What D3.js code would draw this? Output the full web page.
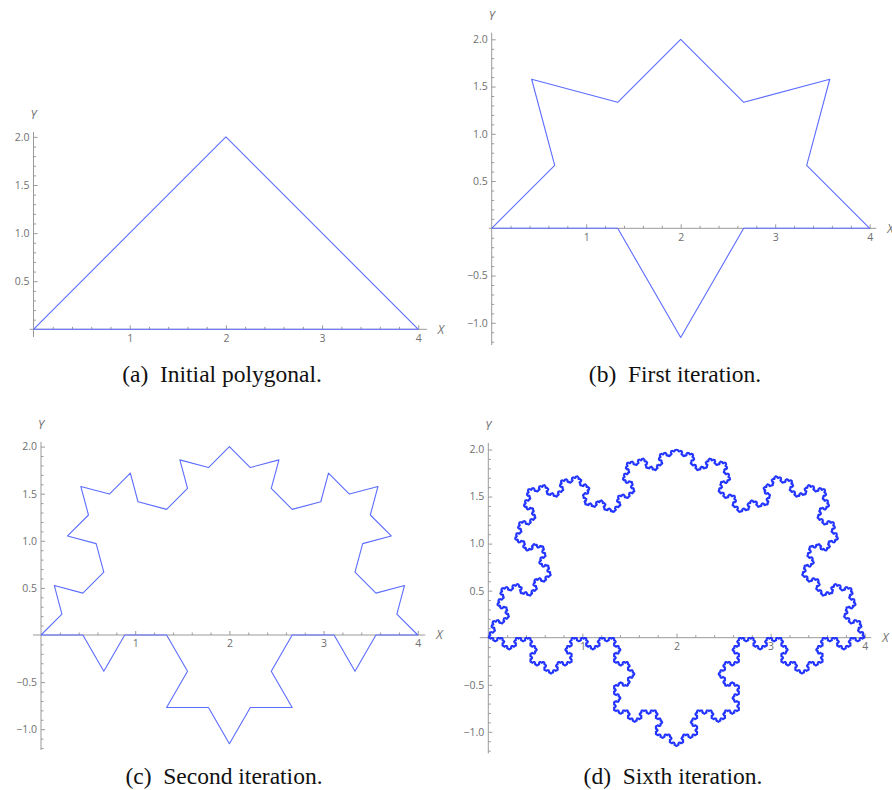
<!DOCTYPE html>
<html><head><meta charset="utf-8">
<script src="https://cdn.jsdelivr.net/npm/d3@7"></script>
<style>body{margin:0;background:#fff} svg{display:block}</style>
</head><body>
<svg id="chart" width="892" height="790"></svg>
<script>
// ---- data ----
const initialPolygon = [[0, 0], [2, 2], [4, 0], [0, 0]];
const iterationCounts = [0, 1, 2, 6];
const captionLabels = ["(a)\u00a0 Initial polygonal.", "(b)\u00a0 First iteration.", "(c)\u00a0 Second iteration.", "(d)\u00a0 Sixth iteration."];
const xTickValues = [1, 2, 3, 4];
const yTickValuesPositive = [0.5, 1.0, 1.5, 2.0];
const yTickValuesFull = [-1.0, -0.5, 0.5, 1.0, 1.5, 2.0];
const axisNames = ["X", "Y"];

// ---- layout ----
const layout = [
  {ox: 33.5, oy: 329.3, k: 96.2, xLo: -0.04, xHi: 4.09, yLo: -0.08, yHi: 2.05, yTicks: yTickValuesPositive, cap: [222, 382], color: "#5c6dff", width: 1.1},
  {ox: 491.7, oy: 228.3, k: 94.5, xLo: -0.03, xHi: 4.07, yLo: -1.235, yHi: 2.07, yTicks: yTickValuesFull, cap: [675, 382], color: "#5c6dff", width: 1.1},
  {ox: 41, oy: 635, k: 94.2, xLo: -0.085, xHi: 4.08, yLo: -1.22, yHi: 2.05, yTicks: yTickValuesFull, cap: [224, 784], color: "#5c6dff", width: 1.1},
  {ox: 488.3, oy: 637.7, k: 94.1, xLo: -0.09, xHi: 4.07, yLo: -1.23, yHi: 2.07, yTicks: yTickValuesFull, cap: [673, 784], color: "#2234ff", width: 1.5}
];

function kochStep(pts) {
  const h = Math.sqrt(3) / 6;
  const out = [pts[0]];
  for (let i = 0; i < pts.length - 1; i++) {
    const [x0, y0] = pts[i], [x1, y1] = pts[i + 1];
    const dx = x1 - x0, dy = y1 - y0;
    out.push([x0 + dx / 3, y0 + dy / 3],
             [(x0 + x1) / 2 - h * dy, (y0 + y1) / 2 + h * dx],
             [x0 + 2 * dx / 3, y0 + 2 * dy / 3],
             [x1, y1]);
  }
  return out;
}
function koch(n) {
  let p = initialPolygon;
  for (let i = 0; i < n; i++) p = kochStep(p);
  return p;
}

const svg = d3.select("#chart");
const axisColor = "#9a9a9a", labelColor = "#707070";
const fmt = d => (d < 0 ? "\u2212" : "") + Math.abs(d).toFixed(1);

layout.forEach((L, i) => {
  const x = d3.scaleLinear().domain([0, 4]).range([L.ox, L.ox + 4 * L.k]);
  const y = d3.scaleLinear().domain([0, 2]).range([L.oy, L.oy - 2 * L.k]);
  const g = svg.append("g");

  // axis lines
  g.append("line").attr("x1", x(L.xLo)).attr("x2", x(L.xHi)).attr("y1", y(0)).attr("y2", y(0))
    .attr("stroke", axisColor).attr("stroke-width", 1);
  g.append("line").attr("x1", x(0)).attr("x2", x(0)).attr("y1", y(L.yLo)).attr("y2", y(L.yHi))
    .attr("stroke", axisColor).attr("stroke-width", 1);

  // x ticks
  const xMinor = d3.range(1, 21).map(j => j * 0.2).filter(v => Math.abs(v - Math.round(v)) > 1e-6);
  const xAx = g.append("g").attr("transform", `translate(0,${y(0)})`)
    .call(d3.axisBottom(x).tickValues(xTickValues).tickSizeInner(-4).tickSizeOuter(0).tickPadding(5).tickFormat(d3.format("d")));
  const xAxM = g.append("g").attr("transform", `translate(0,${y(0)})`)
    .call(d3.axisBottom(x).tickValues(xMinor).tickSizeInner(-2.5).tickSizeOuter(0).tickFormat(""));

  // y ticks
  const yMinor = d3.range(Math.ceil(L.yLo * 10), Math.floor(L.yHi * 10) + 1).map(j => j / 10)
    .filter(v => Math.abs(v) > 1e-6 && Math.abs(v * 2 - Math.round(v * 2)) > 1e-6);
  const yAx = g.append("g").attr("transform", `translate(${x(0)},0)`)
    .call(d3.axisLeft(y).tickValues(L.yTicks).tickSizeInner(-4).tickSizeOuter(0).tickPadding(4).tickFormat(fmt));
  const yAxM = g.append("g").attr("transform", `translate(${x(0)},0)`)
    .call(d3.axisLeft(y).tickValues(yMinor).tickSizeInner(-2.5).tickSizeOuter(0).tickFormat(""));

  [xAx, xAxM, yAx, yAxM].forEach(a => {
    a.select(".domain").remove();
    a.selectAll("line").attr("stroke", axisColor);
    a.selectAll("text").attr("fill", labelColor).attr("font-family", "Open Sans, DejaVu Sans, sans-serif").attr("font-size", 10.5);
  });

  // axis names
  g.append("text").attr("x", x(L.xHi) + 14).attr("y", y(0)).attr("dy", "0.35em")
    .attr("text-anchor", "middle").attr("fill", labelColor).attr("font-style", "italic")
    .attr("font-family", "Open Sans, DejaVu Sans, sans-serif").attr("font-size", 12).text(axisNames[0]);
  g.append("text").attr("x", x(0)).attr("y", y(L.yHi) - 17).attr("dy", "0.35em")
    .attr("text-anchor", "middle").attr("fill", labelColor).attr("font-style", "italic")
    .attr("font-family", "Open Sans, DejaVu Sans, sans-serif").attr("font-size", 12).text(axisNames[1]);

  // curve
  const line = d3.line().x(d => x(d[0])).y(d => y(d[1]));
  g.append("path").datum(koch(iterationCounts[i])).attr("d", line)
    .attr("fill", "none").attr("stroke", L.color).attr("stroke-width", L.width).attr("stroke-linejoin", "round");

  // caption
  svg.append("text").attr("x", L.cap[0]).attr("y", L.cap[1]).attr("text-anchor", "middle")
    .attr("font-family", "Liberation Serif, DejaVu Serif, serif").attr("font-size", 23.5).attr("fill", "#111")
    .text(captionLabels[i]);
});
</script>
</body></html>
